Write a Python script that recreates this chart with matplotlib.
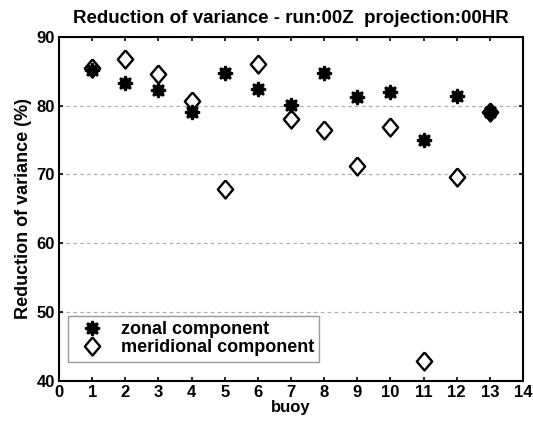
import matplotlib
matplotlib.use("Agg")
import matplotlib.pyplot as plt

buoys = [1, 2, 3, 4, 5, 6, 7, 8, 9, 10, 11, 12, 13]
zonal = [85.2, 83.3, 82.2, 79.0, 84.7, 82.4, 80.1, 84.8, 81.2, 82.0, 75.0, 81.4, 79.1]
meridional = [85.5, 86.7, 84.6, 80.6, 67.8, 86.1, 78.1, 76.5, 71.2, 76.9, 42.8, 69.6, 79.1]

plt.rcParams["font.family"] = ["Liberation Sans", "DejaVu Sans"]
plt.rcParams["font.weight"] = "bold"

# slightly tall diamond, like the matlab one
diamond = [(0, 1), (0.85, 0), (0, -1), (-0.85, 0), (0, 1)]

fig = plt.figure(figsize=(5.33, 4.21), dpi=100)
ax = fig.add_axes([0.1107, 0.0957, 0.8705, 0.817])

ax.plot(buoys, meridional, linestyle="none", marker=diamond, markersize=13,
        markerfacecolor="white", markeredgecolor="black", markeredgewidth=1.7,
        label="meridional component", zorder=3)
ax.plot(buoys, zonal, linestyle="none", marker=(8, 1, 0), markersize=10.5,
        color="black", markeredgewidth=1.8, label="zonal component", zorder=4)

ax.set_xlim(0, 14)
ax.set_ylim(40, 90)
ax.set_xticks(range(0, 15))
ax.set_yticks(range(40, 91, 10))
ax.yaxis.grid(True, linestyle=(0, (3, 2.5)), color="#b0b0b0", linewidth=0.9)
ax.tick_params(direction="in", top=True, right=True, labelsize=12, length=3,
               width=1.2, pad=3)
for s in ax.spines.values():
    s.set_linewidth(1.5)

ax.set_title("Reduction of variance - run:00Z  projection:00HR", fontsize=13.5,
             fontweight="bold", pad=10)
ax.set_xlabel("buoy", fontsize=12, fontweight="bold", labelpad=0)
ax.set_ylabel("Reduction of variance (%)", fontsize=13, fontweight="bold", labelpad=3)

handles, labels = ax.get_legend_handles_labels()
leg = ax.legend(handles[::-1], labels[::-1], loc="lower left",
                bbox_to_anchor=(0.02, 0.055), fontsize=13,
                fancybox=False, edgecolor="#999999", framealpha=1,
                borderpad=0.3, handletextpad=0.6, labelspacing=0.05,
                handlelength=2.0, borderaxespad=0)
leg.get_frame().set_linewidth(1.0)

fig.savefig("out.png", dpi=100)
